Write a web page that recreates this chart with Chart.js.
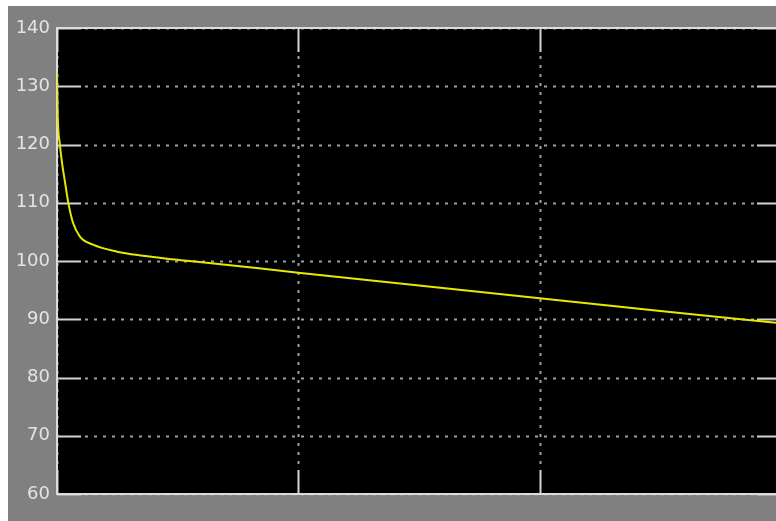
<!DOCTYPE html>
<html>
<head>
<meta charset="utf-8">
<script src="https://cdn.jsdelivr.net/npm/chart.js@4/dist/chart.umd.min.js"></script>
<style>
  html, body { margin: 0; padding: 0; background: #ffffff; overflow: hidden; }
  #wrap { position: absolute; left: 8px; top: 6px; width: 774px; height: 515px; }
</style>
</head>
<body>
<div id="wrap"><canvas id="scope" width="774" height="515"></canvas></div>
<script>
// Simulation time (s) and measured signal
const times = [0, 0.003, 0.012, 0.021, 0.033, 0.046, 0.066, 0.095, 0.149, 0.249, 0.356, 0.456, 0.6, 1.0, 1.5, 2.0, 2.5, 3.0];
const values = [132.5, 125, 120, 116.8, 113.6, 110.2, 106.6, 104.2, 102.8, 101.6, 100.9, 100.4, 99.8, 98.0, 95.8, 93.6, 91.4, 89.3];
const yTicks = [60, 70, 80, 90, 100, 110, 120, 130, 140];
const xTicks = [0, 1, 2, 3];

// Scope-style axes: black panel, dotted grid with solid tick stubs
const scopeGrid = {
  id: 'scopeGrid',
  beforeDraw(chart) {
    const { ctx, chartArea: a } = chart;
    ctx.save();
    ctx.fillStyle = '#808080';
    ctx.fillRect(0, 0, chart.width, chart.height);
    ctx.fillStyle = '#000';
    ctx.fillRect(a.left, a.top, a.right - a.left, a.bottom - a.top);
    ctx.restore();
  },
  beforeDatasetsDraw(chart) {
    const { ctx, chartArea: a, scales } = chart;
    const stub = 24;
    ctx.save();
    // dotted grid
    ctx.strokeStyle = '#a0a0a0';
    ctx.lineWidth = 2;
    ctx.setLineDash([3, 6]);
    yTicks.forEach(v => {
      const y = Math.round(scales.y.getPixelForValue(v)) + 0.5;
      ctx.beginPath();
      ctx.moveTo(a.left + stub + 4, y);
      ctx.lineTo(a.right - stub, y);
      ctx.stroke();
    });
    xTicks.forEach(v => {
      const x = Math.round(scales.x.getPixelForValue(v)) + 0.5;
      ctx.beginPath();
      ctx.moveTo(x, a.top + stub + 4);
      ctx.lineTo(x, a.bottom - stub);
      ctx.stroke();
    });
    // solid tick stubs
    ctx.setLineDash([]);
    ctx.lineWidth = 2;
    ctx.strokeStyle = '#d4d4d4';
    yTicks.forEach(v => {
      const y = Math.round(scales.y.getPixelForValue(v)) + 0.5;
      ctx.beginPath();
      ctx.moveTo(a.left, y); ctx.lineTo(a.left + stub, y);
      ctx.moveTo(a.right - stub, y); ctx.lineTo(a.right, y);
      ctx.stroke();
    });
    xTicks.forEach(v => {
      const x = Math.round(scales.x.getPixelForValue(v)) + 0.5;
      ctx.beginPath();
      ctx.moveTo(x, a.top); ctx.lineTo(x, a.top + stub);
      ctx.moveTo(x, a.bottom - stub); ctx.lineTo(x, a.bottom);
      ctx.stroke();
    });
    // frame
    ctx.strokeStyle = '#dcdcdc';
    ctx.lineWidth = 2;
    ctx.strokeRect(a.left, a.top, a.right - a.left, a.bottom - a.top);
    ctx.restore();
  }
};

new Chart(document.getElementById('scope'), {
  type: 'line',
  data: {
    datasets: [{
      data: times.map((t, i) => ({ x: t, y: values[i] })),
      borderColor: '#e8e800',
      borderWidth: 2,
      pointRadius: 0,
      cubicInterpolationMode: 'monotone',
      fill: false
    }]
  },
  options: {
    responsive: false,
    animation: false,
    events: [],
    layout: { padding: { top: 22, bottom: 27, left: 0, right: 1 } },
    plugins: { legend: { display: false }, tooltip: { enabled: false } },
    scales: {
      x: {
        type: 'linear',
        min: xTicks[0],
        max: xTicks[xTicks.length - 1],
        grid: { display: false },
        border: { display: false },
        ticks: { display: false, stepSize: 1 },
        afterFit(scale) { scale.height = 0; }
      },
      y: {
        type: 'linear',
        min: yTicks[0],
        max: yTicks[yTicks.length - 1],
        grid: { display: false, drawTicks: false },
        border: { display: false },
        afterBuildTicks(scale) { scale.ticks = yTicks.map(v => ({ value: v })); },
        ticks: {
          color: '#e4e4e4',
          padding: 7,
          font: { family: 'DejaVu Sans', size: 18 }
        },
        afterFit(scale) { scale.width = 49; }
      }
    }
  },
  plugins: [scopeGrid]
});
</script>
</body>
</html>
